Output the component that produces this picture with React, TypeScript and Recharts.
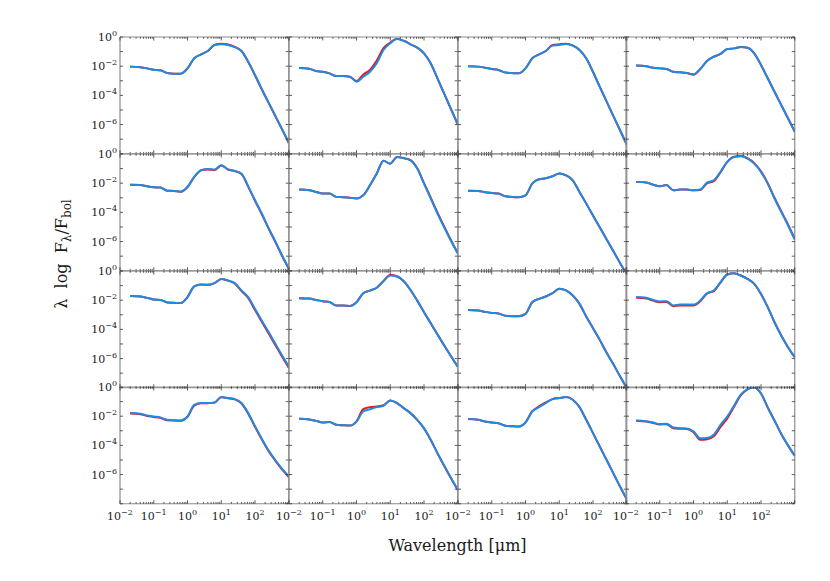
import React from "react";
import { LineChart, Line, XAxis, YAxis, ReferenceLine } from "recharts";

// log10 of wavelength in micron, shared by every panel
const logWavelength = [-1.7, -1.4, -1.2, -1.0, -0.8, -0.6, -0.4, -0.2, 0.0, 0.2, 0.4, 0.6, 0.8, 1.0, 1.2, 1.4, 1.6, 1.8, 2.0, 2.2, 2.4, 2.6, 2.8, 3.0];

const xDecades = [-2, -1, 0, 1, 2, 3];
const xLabelDecades = [-2, -1, 0, 1, 2];
const minorSteps = [2, 3, 4, 5, 6, 7, 8, 9];
const yDecades = [-8, -7, -6, -5, -4, -3, -2, -1, 0];
const yLabelDecades = [0, -2, -4, -6];

// log10(lambda F_lambda / F_bol), red = model, blue = fit
const red11 = [-2.03, -2.08, -2.15, -2.24, -2.28, -2.47, -2.51, -2.51, -2.15, -1.46, -1.19, -0.96, -0.55, -0.47, -0.52, -0.68, -0.96, -1.71, -2.62, -3.58, -4.50, -5.41, -6.33, -7.26];
const blue11 = [-2.03, -2.08, -2.15, -2.24, -2.28, -2.47, -2.51, -2.51, -2.15, -1.46, -1.19, -0.96, -0.55, -0.50, -0.55, -0.69, -0.96, -1.69, -2.60, -3.56, -4.48, -5.39, -6.30, -7.22];
const red12 = [-2.12, -2.17, -2.33, -2.38, -2.49, -2.67, -2.67, -2.72, -3.02, -2.58, -2.25, -1.62, -0.76, -0.38, -0.12, -0.26, -0.50, -0.73, -1.12, -1.82, -2.85, -3.90, -4.95, -6.00];
const blue12 = [-2.12, -2.17, -2.33, -2.38, -2.49, -2.67, -2.67, -2.72, -3.06, -2.72, -2.38, -1.80, -0.89, -0.43, -0.14, -0.27, -0.50, -0.73, -1.12, -1.80, -2.83, -3.88, -4.93, -5.98];
const red13 = [-2.01, -2.03, -2.10, -2.19, -2.26, -2.44, -2.47, -2.49, -2.15, -1.46, -1.19, -0.96, -0.55, -0.50, -0.46, -0.58, -0.89, -1.47, -2.40, -3.42, -4.41, -5.41, -6.39, -7.38];
const blue13 = [-2.01, -2.03, -2.10, -2.19, -2.26, -2.44, -2.47, -2.49, -2.15, -1.46, -1.19, -0.96, -0.59, -0.55, -0.48, -0.59, -0.89, -1.46, -2.38, -3.40, -4.39, -5.39, -6.37, -7.36];
const red14 = [-1.96, -2.01, -2.10, -2.15, -2.19, -2.38, -2.42, -2.47, -2.58, -2.20, -1.64, -1.35, -1.16, -0.82, -0.78, -0.69, -0.73, -1.12, -1.92, -2.83, -3.75, -4.66, -5.57, -6.49];
const blue14 = [-1.96, -2.01, -2.10, -2.15, -2.19, -2.38, -2.42, -2.47, -2.56, -2.19, -1.64, -1.35, -1.16, -0.82, -0.78, -0.69, -0.73, -1.12, -1.92, -2.83, -3.75, -4.66, -5.57, -6.49];

const red21 = [-2.10, -2.12, -2.21, -2.28, -2.30, -2.51, -2.53, -2.58, -2.26, -1.57, -1.12, -1.06, -1.10, -0.78, -1.06, -1.17, -1.37, -2.25, -3.20, -4.11, -5.09, -6.01, -6.97, -7.86];
const blue21 = [-2.10, -2.12, -2.21, -2.28, -2.30, -2.51, -2.53, -2.58, -2.26, -1.57, -1.11, -1.02, -1.07, -0.77, -1.05, -1.16, -1.35, -2.22, -3.17, -4.08, -5.06, -5.98, -6.94, -7.83];
const red22 = [-2.44, -2.48, -2.60, -2.71, -2.71, -2.94, -2.96, -2.99, -3.05, -2.83, -2.14, -1.34, -0.47, -0.66, -0.20, -0.28, -0.42, -0.98, -1.99, -3.00, -4.02, -4.98, -5.90, -6.78];
const blue22 = [-2.44, -2.48, -2.60, -2.71, -2.71, -2.94, -2.96, -2.99, -3.05, -2.83, -2.14, -1.34, -0.47, -0.66, -0.20, -0.29, -0.43, -1.00, -2.03, -3.05, -4.08, -5.04, -5.96, -6.82];
const red23 = [-2.51, -2.53, -2.62, -2.67, -2.71, -2.90, -2.94, -2.96, -2.83, -2.03, -1.73, -1.66, -1.52, -1.34, -1.46, -1.80, -2.60, -3.40, -4.22, -5.02, -5.84, -6.64, -7.46, -8.26];
const blue23 = [-2.51, -2.53, -2.62, -2.67, -2.71, -2.90, -2.94, -2.96, -2.83, -2.03, -1.73, -1.66, -1.52, -1.34, -1.46, -1.80, -2.60, -3.40, -4.22, -5.02, -5.84, -6.64, -7.46, -8.26];
const red24 = [-1.91, -1.96, -2.10, -2.21, -2.12, -2.48, -2.44, -2.44, -2.48, -2.46, -2.02, -1.86, -1.25, -0.54, -0.19, -0.14, -0.29, -0.63, -1.19, -2.00, -3.00, -3.92, -4.83, -5.82];
const blue24 = [-1.91, -1.96, -2.10, -2.21, -2.12, -2.48, -2.44, -2.44, -2.48, -2.44, -1.96, -1.80, -1.23, -0.54, -0.20, -0.15, -0.31, -0.66, -1.23, -2.03, -3.05, -3.97, -4.88, -5.87];

const red31 = [-1.72, -1.75, -1.84, -1.95, -1.98, -2.16, -2.18, -2.20, -1.79, -1.06, -0.93, -0.95, -0.83, -0.54, -0.66, -0.86, -1.38, -1.86, -2.68, -3.48, -4.27, -5.07, -5.86, -6.62];
const blue31 = [-1.72, -1.75, -1.84, -1.95, -1.98, -2.16, -2.18, -2.20, -1.79, -1.06, -0.93, -0.95, -0.83, -0.54, -0.65, -0.83, -1.33, -1.79, -2.59, -3.39, -4.17, -4.97, -5.77, -6.54];
const red32 = [-1.86, -1.89, -1.98, -2.07, -2.12, -2.37, -2.37, -2.39, -2.14, -1.52, -1.34, -1.15, -0.68, -0.28, -0.36, -0.70, -1.30, -2.03, -2.82, -3.58, -4.35, -5.11, -5.84, -6.55];
const blue32 = [-1.86, -1.89, -1.98, -2.07, -2.12, -2.37, -2.37, -2.39, -2.14, -1.52, -1.34, -1.15, -0.70, -0.31, -0.38, -0.70, -1.30, -2.03, -2.82, -3.58, -4.35, -5.11, -5.84, -6.55];
const red33 = [-2.68, -2.70, -2.80, -2.87, -2.91, -3.07, -3.10, -3.10, -2.94, -2.14, -1.91, -1.75, -1.52, -1.22, -1.33, -1.68, -2.25, -3.12, -3.92, -4.72, -5.58, -6.38, -7.21, -8.00];
const blue33 = [-2.68, -2.70, -2.80, -2.87, -2.91, -3.07, -3.10, -3.10, -2.94, -2.14, -1.91, -1.75, -1.52, -1.22, -1.33, -1.68, -2.25, -3.12, -3.92, -4.72, -5.58, -6.38, -7.21, -8.00];
const red34 = [-1.84, -1.89, -2.03, -2.14, -2.12, -2.42, -2.36, -2.36, -2.36, -2.07, -1.55, -1.38, -0.79, -0.24, -0.15, -0.31, -0.54, -0.88, -1.57, -2.48, -3.51, -4.42, -5.22, -5.91];
const blue34 = [-1.79, -1.84, -1.98, -2.09, -2.07, -2.36, -2.30, -2.30, -2.30, -2.02, -1.52, -1.34, -0.77, -0.24, -0.15, -0.31, -0.54, -0.88, -1.57, -2.48, -3.51, -4.42, -5.22, -5.91];

const red41 = [-1.82, -1.86, -1.98, -2.05, -2.12, -2.28, -2.30, -2.32, -2.05, -1.28, -1.12, -1.11, -1.07, -0.70, -0.77, -0.85, -1.13, -1.83, -2.72, -3.58, -4.38, -5.04, -5.64, -6.17];
const blue41 = [-1.79, -1.83, -1.95, -2.02, -2.09, -2.25, -2.27, -2.29, -2.02, -1.22, -1.10, -1.10, -1.06, -0.69, -0.76, -0.83, -1.10, -1.79, -2.68, -3.54, -4.34, -5.00, -5.60, -6.13];
const red42 = [-2.18, -2.23, -2.32, -2.43, -2.39, -2.59, -2.62, -2.64, -2.35, -1.52, -1.38, -1.33, -1.25, -0.92, -1.10, -1.45, -1.79, -2.25, -2.84, -3.63, -4.55, -5.42, -6.26, -7.06];
const blue42 = [-2.18, -2.23, -2.32, -2.43, -2.39, -2.59, -2.62, -2.64, -2.37, -1.68, -1.52, -1.38, -1.29, -0.92, -1.10, -1.45, -1.79, -2.25, -2.82, -3.61, -4.53, -5.40, -6.24, -7.04];
const red43 = [-2.20, -2.25, -2.36, -2.43, -2.48, -2.66, -2.69, -2.71, -2.43, -1.66, -1.33, -1.06, -0.83, -0.76, -0.69, -0.87, -1.38, -2.25, -3.16, -4.08, -4.99, -5.90, -6.82, -7.69];
const blue43 = [-2.20, -2.25, -2.36, -2.43, -2.48, -2.66, -2.69, -2.71, -2.43, -1.68, -1.38, -1.10, -0.83, -0.76, -0.69, -0.87, -1.38, -2.25, -3.16, -4.08, -4.99, -5.90, -6.82, -7.69];
const red44 = [-2.31, -2.37, -2.46, -2.57, -2.55, -2.82, -2.86, -2.88, -3.10, -3.62, -3.58, -3.38, -2.74, -2.15, -1.36, -0.58, -0.16, -0.02, -0.45, -1.40, -2.30, -3.22, -4.00, -4.71];
const blue44 = [-2.29, -2.34, -2.43, -2.54, -2.52, -2.77, -2.82, -2.84, -3.04, -3.52, -3.50, -3.27, -2.59, -2.02, -1.28, -0.53, -0.14, -0.01, -0.45, -1.40, -2.30, -3.22, -4.00, -4.71];

const panels = [
  [red11, blue11], [red12, blue12], [red13, blue13], [red14, blue14],
  [red21, blue21], [red22, blue22], [red23, blue23], [red24, blue24],
  [red31, blue31], [red32, blue32], [red33, blue33], [red34, blue34],
  [red41, blue41], [red42, blue42], [red43, blue43], [red44, blue44],
];

const xTicks = [
  ...xDecades,
  ...xDecades.slice(0, -1).flatMap((d) => minorSteps.map((k) => d + Math.log10(k))),
];

const X0 = 120;
const Y0 = 37;
const PW = 168.75;
const PH = 116.75;
const ML = 60;
const MR = 12;
const MT = 12;
const MB = 30;

const FRAME = "#8c8c8c";
const TICK = "#333";
const INK = "#1a1a1a";
const RED = "#e8161b";
const BLUE = "#1e8ae2";
const FONT = "'DejaVu Serif', serif";

const sup = (n: number) => (n < 0 ? "\u2212" + Math.abs(n) : String(n));

function XTick(props: any) {
  const { x, payload, showLabel } = props;
  const v = payload.value as number;
  const major = Math.abs(v - Math.round(v)) < 1e-6;
  const len = major ? 3.5 : 1.8;
  const yb = MT + PH;
  const yt = MT;
  const label = showLabel && major && xLabelDecades.includes(Math.round(v));
  return (
    <g>
      <line x1={x} x2={x} y1={yb} y2={yb - len} stroke={TICK} strokeWidth={0.8} />
      <line x1={x} x2={x} y1={yt} y2={yt + len} stroke={TICK} strokeWidth={0.8} />
      {label && (
        <text x={x} y={yb + 16} textAnchor="middle" fontFamily={FONT} fontSize={11} fill={INK}>
          10<tspan dy={-5} fontSize={8}>{sup(Math.round(v))}</tspan>
        </text>
      )}
    </g>
  );
}

function YTick(props: any) {
  const { y, payload, showLabel } = props;
  const v = payload.value as number;
  const xl = ML;
  const xr = ML + PW;
  const label = showLabel && yLabelDecades.includes(v);
  return (
    <g>
      <line x1={xl} x2={xl + 3} y1={y} y2={y} stroke={TICK} strokeWidth={0.8} />
      <line x1={xr} x2={xr - 3} y1={y} y2={y} stroke={TICK} strokeWidth={0.8} />
      {label && (
        <text x={xl - 3} y={y + 4} textAnchor="end" fontFamily={FONT} fontSize={11} fill={INK}>
          10<tspan dy={-5} fontSize={8}>{sup(v)}</tspan>
        </text>
      )}
    </g>
  );
}

function Panel({ row, col, red, blue }: { row: number; col: number; red: number[]; blue: number[] }) {
  const data = logWavelength.map((lx, i) => ({ lx, red: red[i], blue: blue[i] }));
  const showX = row === 3;
  const showY = col === 0;
  return (
    <div style={{ position: "absolute", left: X0 + col * PW - ML, top: Y0 + row * PH - MT }}>
      <LineChart
        width={PW + ML + MR}
        height={PH + MT + MB}
        data={data}
        margin={{ top: MT, right: MR, bottom: 0, left: 0 }}
      >
        <XAxis
          dataKey="lx"
          type="number"
          domain={[-2, 3]}
          ticks={xTicks}
          interval={0}
          allowDataOverflow
          height={MB}
          tickLine={false}
          axisLine={{ stroke: FRAME, strokeWidth: 1.2 }}
          tick={(p: any) => <XTick {...p} showLabel={showX} />}
        />
        <YAxis
          type="number"
          domain={[-8, 0]}
          ticks={yDecades}
          interval={0}
          allowDataOverflow
          width={ML}
          tickLine={false}
          axisLine={{ stroke: FRAME, strokeWidth: 1.2 }}
          tick={(p: any) => <YTick {...p} showLabel={showY} />}
        />
        <ReferenceLine y={0} stroke={FRAME} strokeWidth={1.2} />
        <ReferenceLine x={3} stroke={FRAME} strokeWidth={1.2} />
        <Line type="monotone" dataKey="red" stroke={RED} strokeWidth={2} dot={false} isAnimationActive={false} />
        <Line type="monotone" dataKey="blue" stroke={BLUE} strokeWidth={2} dot={false} isAnimationActive={false} />
      </LineChart>
    </div>
  );
}

export default function App() {
  return (
    <div style={{ position: "absolute", left: 0, top: 0, width: 830, height: 581, background: "#fff" }}>
      <svg width={830} height={581} style={{ position: "absolute", left: 0, top: 0 }}>
        <text x={457.5} y={551} textAnchor="middle" fontFamily={FONT} fontSize={16} fill={INK}>
          Wavelength [μm]
        </text>
        <text transform="translate(67,254) rotate(-90)" textAnchor="middle" fontFamily={FONT} fontSize={16} fill={INK}>
          {"λ\u00a0\u00a0log\u00a0\u00a0F"}
          <tspan dy={4} fontSize={12}>λ</tspan>
          <tspan dy={-4}>/F</tspan>
          <tspan dy={4} fontSize={12}>bol</tspan>
        </text>
      </svg>
      {panels.map(([red, blue], i) => (
        <Panel key={i} row={Math.floor(i / 4)} col={i % 4} red={red} blue={blue} />
      ))}
    </div>
  );
}
